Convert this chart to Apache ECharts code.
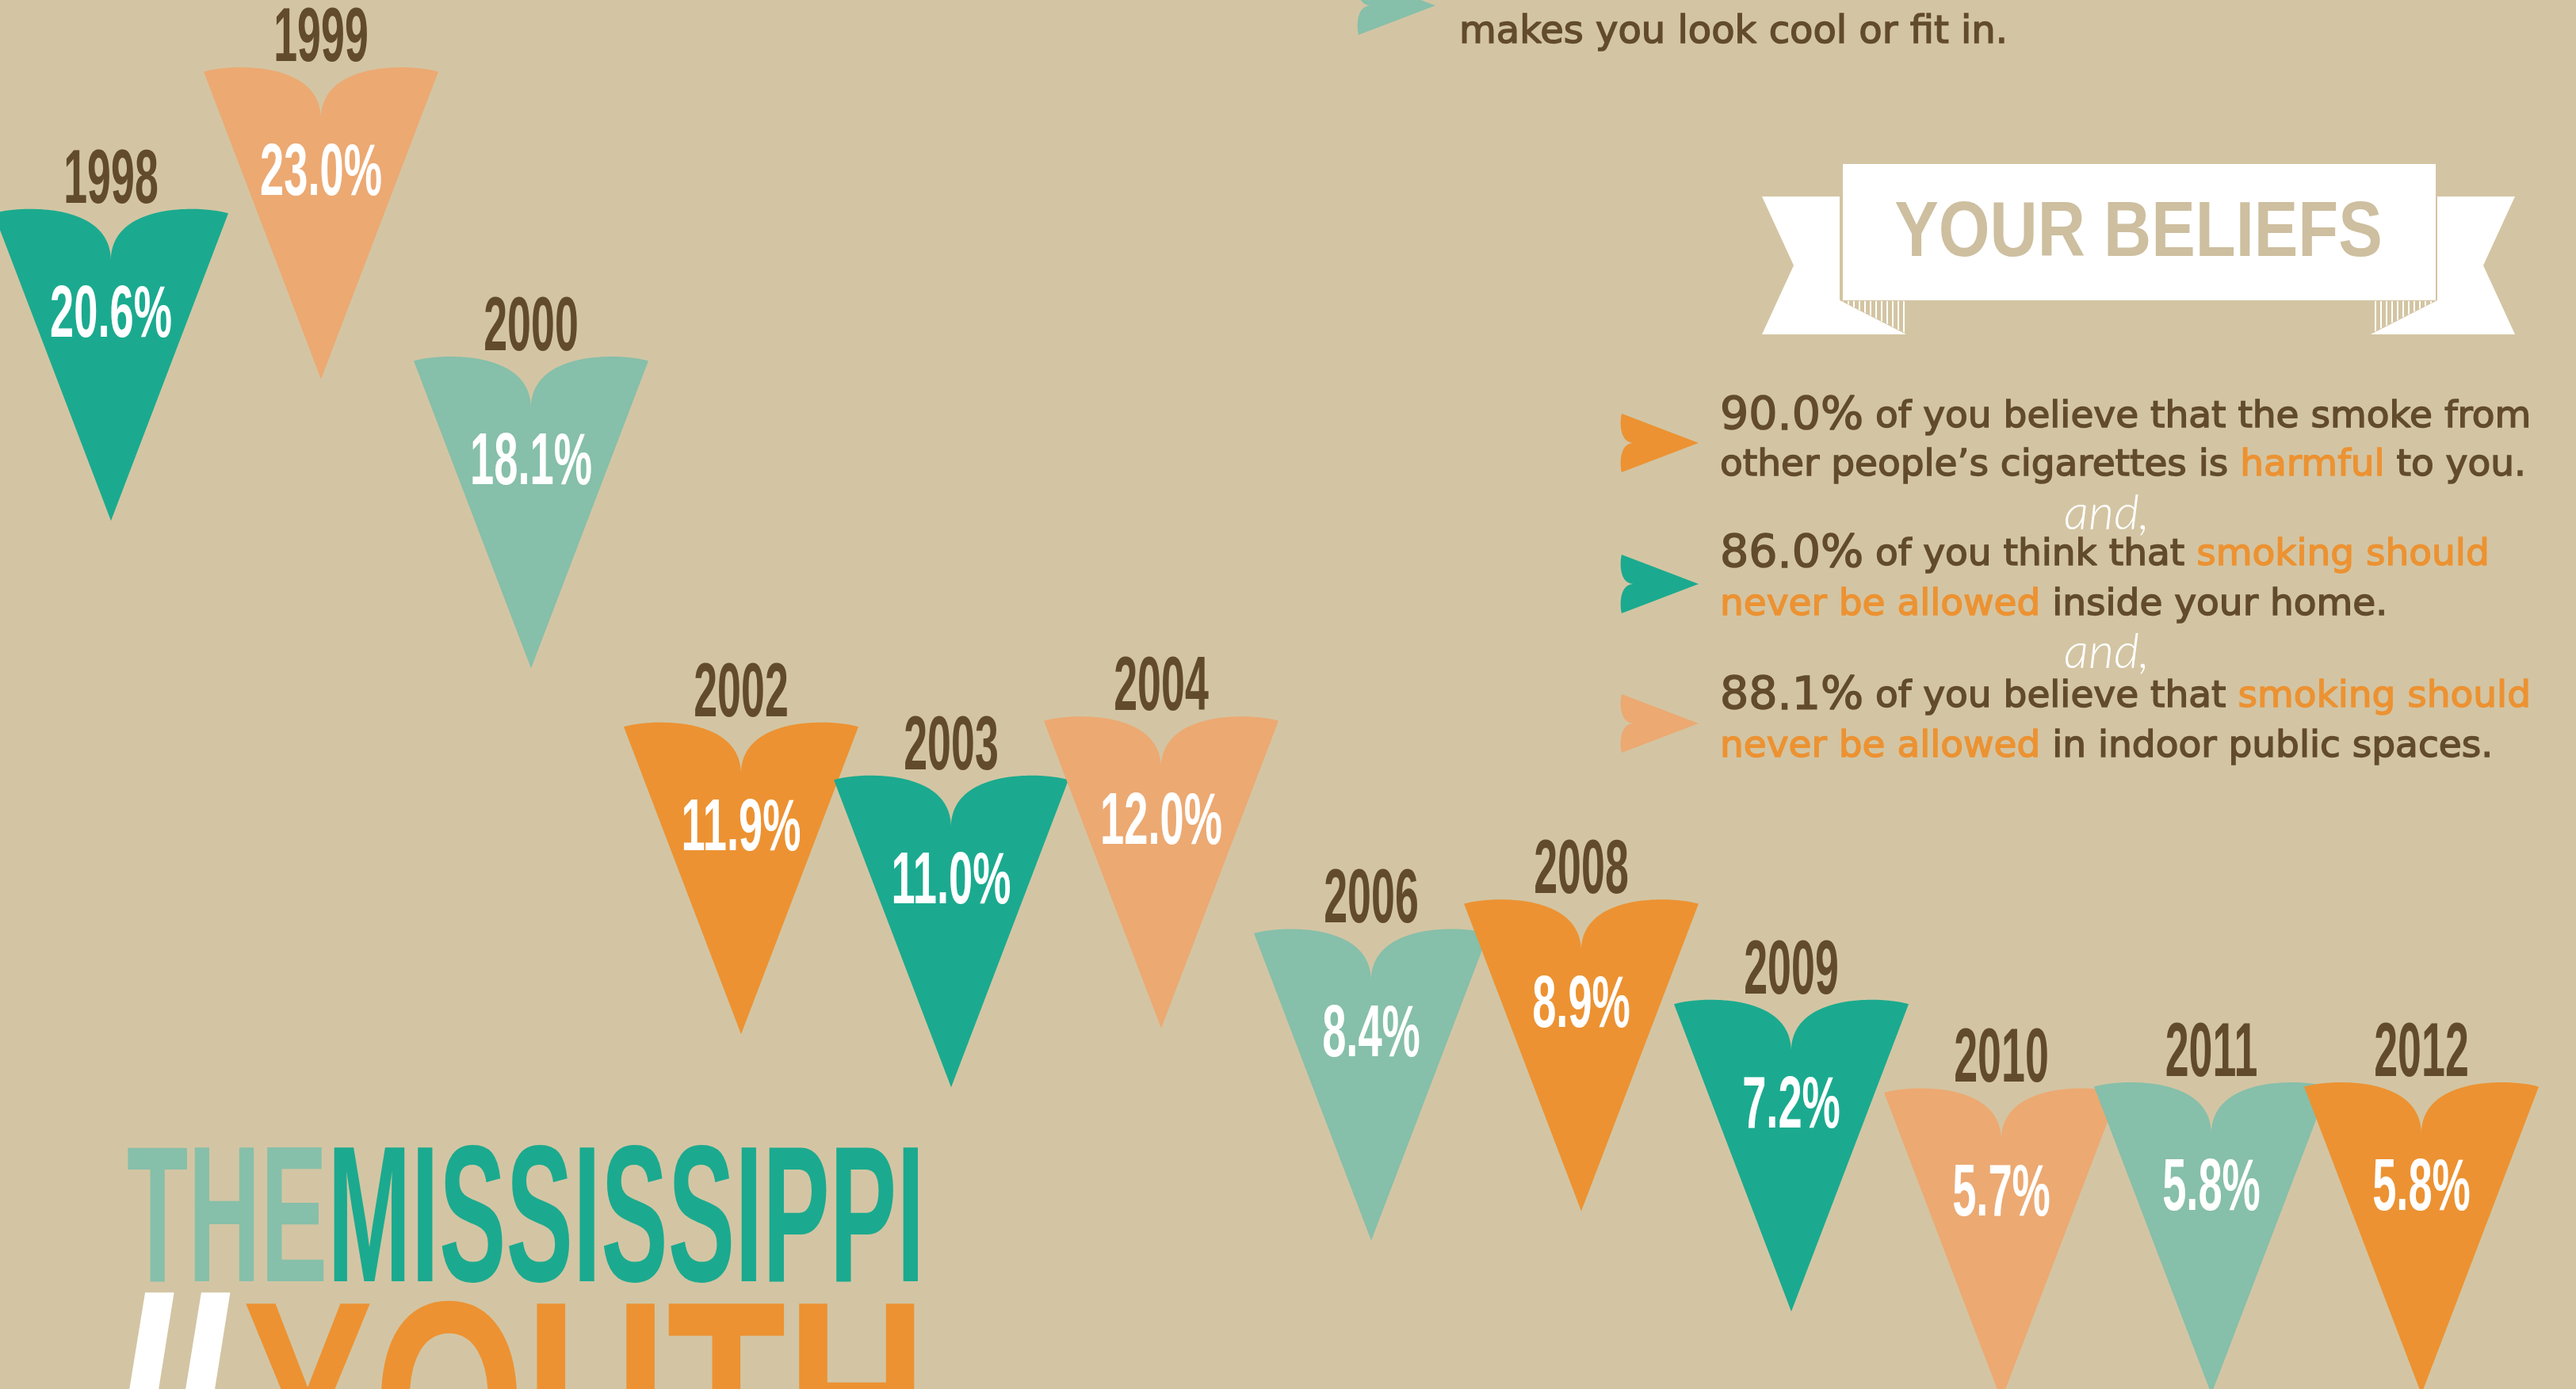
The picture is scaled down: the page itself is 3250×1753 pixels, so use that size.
<!DOCTYPE html>
<html><head><meta charset="utf-8">
<script src="https://cdn.jsdelivr.net/npm/echarts@6/dist/echarts.min.js"></script>
<style>html,body{margin:0;padding:0;background:#d3c5a3;overflow:hidden}#c{width:3250px;height:1753px}</style>
</head><body><div id="c"></div>
<script>
// ---- data ----
const years = ['1998','1999','2000','2002','2003','2004','2006','2008','2009','2010','2011','2012'];
const rates = [20.6, 23.0, 18.1, 11.9, 11.0, 12.0, 8.4, 8.9, 7.2, 5.7, 5.8, 5.8];
const heartColors = ['#1baa8f', '#eca972', '#86bfaa', '#ec9232'];
const beliefPct = ['90.0%', '86.0%', '88.1%'];
const beliefColors = ['#ec9232', '#1baa8f', '#eca972'];
const topLine = 'makes you look cool or fit in.';
const bannerTitle = 'YOUR BELIEFS';

// ---- styles ----
const BG = '#d3c5a3';
const BROWN = '#624b2d';
const ORANGE = '#ec9232';
const NARROW = '"Liberation Sans Narrow", "Liberation Sans", sans-serif';
const BODY = '"DejaVu Sans", sans-serif';
const HEART = 'M-148,0 C-120,-9 -2,-16 0,58 C2,-16 120,-9 148,0 L0,388 Z';

// sampled outline of the same pennant-heart, used for the small bullet arrows
function bez(p0, p1, p2, p3, t) {
  const u = 1 - t;
  return [u*u*u*p0[0] + 3*u*u*t*p1[0] + 3*u*t*t*p2[0] + t*t*t*p3[0],
          u*u*u*p0[1] + 3*u*u*t*p1[1] + 3*u*t*t*p2[1] + t*t*t*p3[1]];
}
function arrowPoints(x, y, s) {
  const pts = [];
  const a = [[-148,0],[-120,-9],[-2,-16],[0,58]];
  const b = [[0,58],[2,-16],[120,-9],[148,0]];
  for (let k = 0; k <= 12; k++) pts.push(bez(a[0],a[1],a[2],a[3],k/12));
  for (let k = 1; k <= 12; k++) pts.push(bez(b[0],b[1],b[2],b[3],k/12));
  pts.push([0,388]);
  return pts.map(p => [x + p[1]*s, y - p[0]*s]);
}

const beliefLines = [
  ['{v|' + beliefPct[0] + '}{t| of you believe that the smoke from}', '{t|other people\u2019s cigarettes is }{h|harmful}{t| to you.}'],
  ['{v|' + beliefPct[1] + '}{t| of you think that }{h|smoking should}', '{h|never be allowed}{t| inside your home.}'],
  ['{v|' + beliefPct[2] + '}{t| of you believe that }{h|smoking should}', '{h|never be allowed}{t| in indoor public spaces.}']
];
const richBody = {
  v: {fontFamily: BODY, fontSize: 57, fill: BROWN, stroke: BROWN, lineWidth: 1.5, lineHeight: 60},
  t: {fontFamily: BODY, fontSize: 47, fill: BROWN, stroke: BROWN, lineWidth: 1.5, lineHeight: 60},
  h: {fontFamily: BODY, fontSize: 47, fill: ORANGE, stroke: ORANGE, lineWidth: 1.5, lineHeight: 60}
};

const chart = echarts.init(document.getElementById('c'), null, {renderer: 'canvas', width: 3250, height: 1753});

function arrow(x, y, color) {
  return {type: 'polygon', shape: {points: arrowPoints(x, y, 0.25)}, style: {fill: color}};
}

const graphics = [];
// top partial line
graphics.push(arrow(1714, 7, '#86bfaa'));
graphics.push({type: 'text', x: 1841, y: 42, style: {text: topLine, font: '48px ' + BODY, fill: BROWN,
  stroke: BROWN, lineWidth: 1.5, verticalAlign: 'middle', align: 'left'}});

// banner
const pc = document.createElement('canvas'); pc.width = 7; pc.height = 8;
const g = pc.getContext('2d'); g.fillStyle = BG; g.fillRect(0, 0, 7, 8); g.fillStyle = '#ffffff'; g.fillRect(0, 0, 2, 8);
const stripe = {image: pc, repeat: 'repeat'};
graphics.push({type: 'polygon', shape: {points: [[2223,248],[2321,248],[2321,379],[2405,422],[2223,422],[2263,335]]}, style: {fill: '#fff'}});
graphics.push({type: 'polygon', shape: {points: [[3173,248],[3075,248],[3075,379],[2991,422],[3173,422],[3133,335]]}, style: {fill: '#fff'}});
graphics.push({type: 'polygon', shape: {points: [[2324,380],[2405,380],[2405,421]]}, style: {fill: stripe}});
graphics.push({type: 'polygon', shape: {points: [[3072,380],[2991,380],[2991,421]]}, style: {fill: stripe}});
graphics.push({type: 'rect', shape: {x: 2325, y: 207, width: 748, height: 172}, style: {fill: '#fff'}});
graphics.push({type: 'text', x: 2698, y: 296, scaleX: 0.85, style: {text: bannerTitle, font: 'bold 98px ' + NARROW,
  fill: '#cdbf9f', align: 'center', verticalAlign: 'middle'}});

// beliefs
const lineY = [[527, 588], [701, 764], [880, 943]];
const arrowY = [559, 737, 913];
const andY = [648, 823];
for (let i = 0; i < 3; i++) {
  graphics.push(arrow(2046, arrowY[i], beliefColors[i]));
  for (let j = 0; j < 2; j++) {
    graphics.push({type: 'text', x: 2170, y: lineY[i][j], style: {text: beliefLines[i][j], rich: richBody,
      align: 'left', verticalAlign: 'middle'}});
  }
}
for (let k = 0; k < 2; k++) {
  graphics.push({type: 'text', x: 2658, y: andY[k], style: {text: 'and,', font: 'italic 300 62px Lato, sans-serif',
    fill: '#ffffff', align: 'center', verticalAlign: 'middle'}});
}

// title
graphics.push({type: 'text', x: 160, y: 1549, scaleX: 0.517, style: {text: '{a|THE}{b|MISSISSIPPI}',
  rich: {a: {fontFamily: NARROW, fontWeight: 'bold', fontSize: 245, fill: '#86bfaa'},
         b: {fontFamily: NARROW, fontWeight: 'bold', fontSize: 245, fill: '#1baa8f'}},
  align: 'left', verticalAlign: 'middle'}});
graphics.push({type: 'text', x: 218, y: 1770, scaleX: 0.85, style: {text: '//', font: 'bold 300px ' + NARROW,
  fill: '#ffffff', stroke: '#ffffff', lineWidth: 8, align: 'center', verticalAlign: 'middle'}});
graphics.push({type: 'text', x: 738, y: 1795, scaleX: 0.68, style: {text: 'YOUTH', font: 'bold 363px ' + NARROW,
  fill: ORANGE, align: 'center', verticalAlign: 'middle'}});

chart.setOption({
  backgroundColor: BG,
  animation: false,
  grid: {left: 140, right: 195, top: 16, bottom: 24},
  xAxis: {type: 'category', data: years, boundaryGap: false, show: false},
  yAxis: {type: 'value', min: 1, max: 24, show: false},
  graphic: graphics,
  series: [{
    type: 'custom',
    clip: false,
    data: rates.map((v, i) => [years[i], v]),
    encode: {x: 0, y: 1},
    renderItem: function (params, api) {
      const i = params.dataIndex;
      const p = api.coord([api.value(0), api.value(1)]);
      return {type: 'group', x: p[0], y: p[1], children: [
        {type: 'path', shape: {pathData: HEART}, style: {fill: heartColors[i % 4]}},
        {type: 'text', x: 0, y: -40, scaleX: 0.56, style: {text: years[i], font: 'bold 96px ' + NARROW,
          fill: BROWN, align: 'center', verticalAlign: 'middle'}},
        {type: 'text', x: 0, y: 130, scaleX: 0.59, style: {text: api.value(1).toFixed(1) + '%', font: 'bold 92px ' + NARROW,
          fill: '#ffffff', align: 'center', verticalAlign: 'middle'}}
      ]};
    }
  }]
});
</script></body></html>
